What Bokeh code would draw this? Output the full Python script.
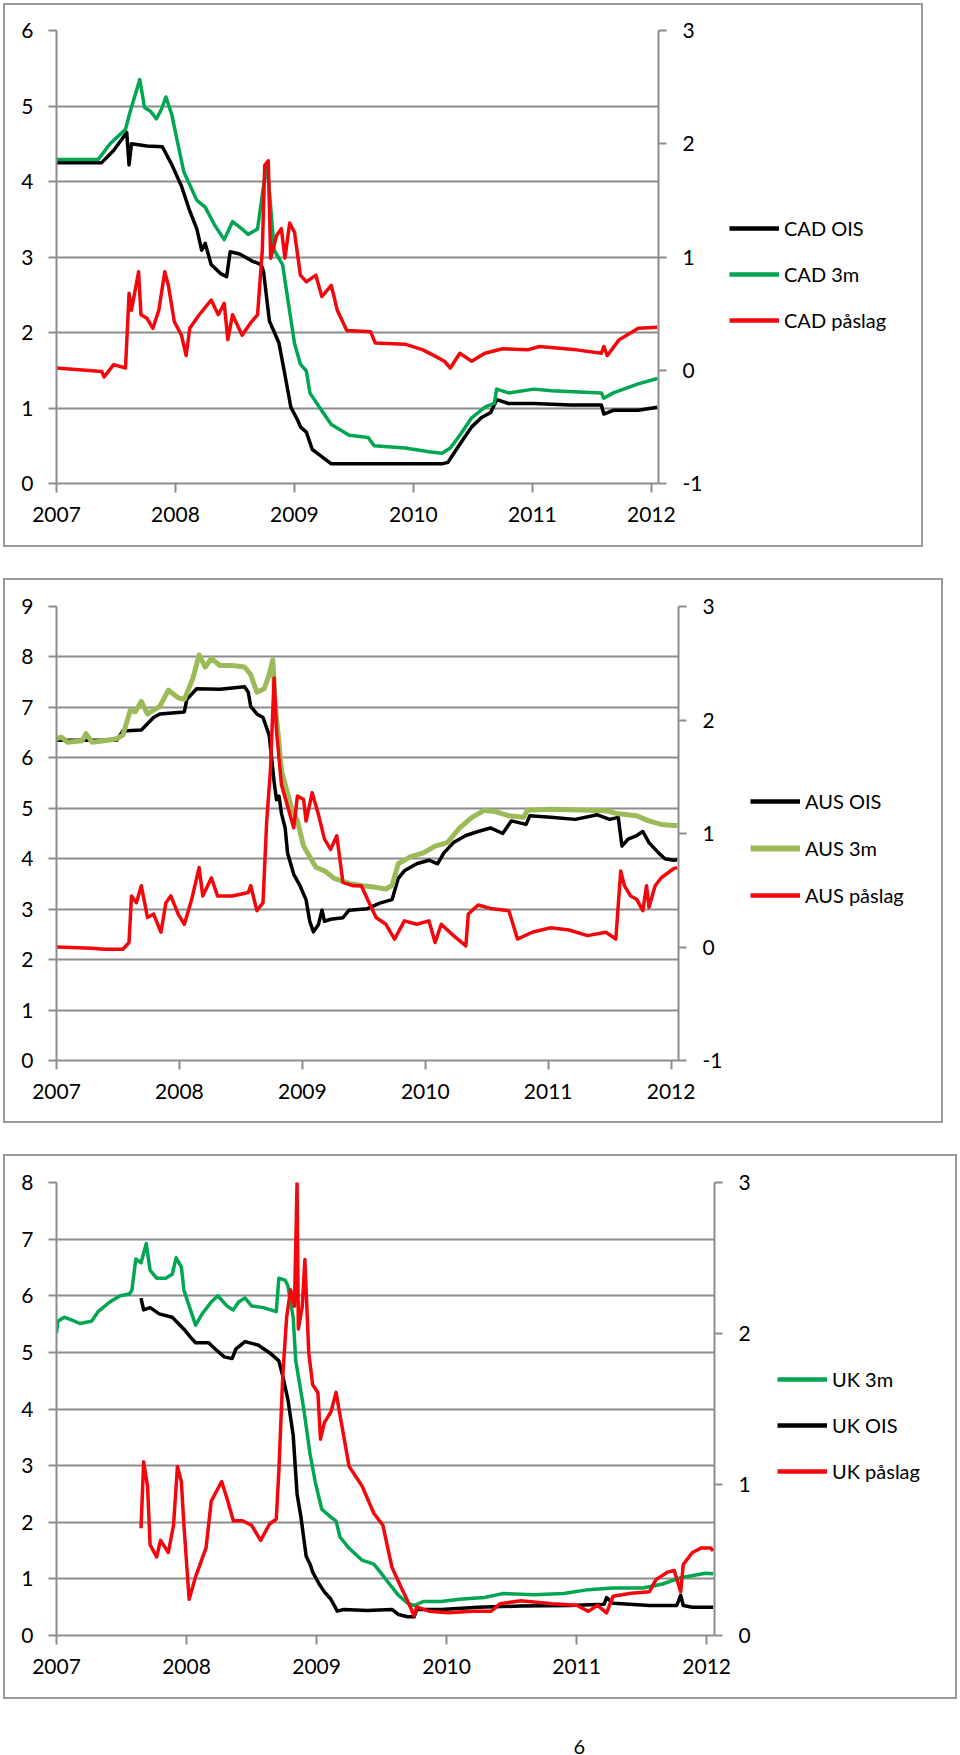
from bokeh.plotting import figure
from bokeh.models import (Range1d, LinearAxis, FixedTicker, Legend, LegendItem, Div)
from bokeh.layouts import column, row
from bokeh.embed import file_html
from bokeh.resources import INLINE

# ---------------- data (decimal years) ----------------
year_ticks = [2007, 2008, 2009, 2010, 2011, 2012]

# Panel 1: Canada
cad_ois_t = [2007.00, 2007.38, 2007.48, 2007.59, 2007.61, 2007.63, 2007.76, 2007.89, 2007.97, 2008.05,
             2008.12, 2008.18, 2008.22, 2008.25, 2008.30, 2008.38, 2008.43, 2008.46, 2008.54, 2008.64,
             2008.72, 2008.74, 2008.79, 2008.87, 2008.92, 2008.97, 2009.03, 2009.05, 2009.10, 2009.15,
             2009.21, 2009.31, 2009.62, 2009.93, 2010.24, 2010.29, 2010.34, 2010.42, 2010.49, 2010.57,
             2010.65, 2010.67, 2010.70, 2010.80, 2011.01, 2011.32, 2011.58, 2011.60, 2011.68, 2011.89,
             2012.05]
cad_ois_v = [4.25, 4.25, 4.41, 4.65, 4.22, 4.50, 4.47, 4.46, 4.22, 3.94,
             3.61, 3.37, 3.09, 3.18, 2.90, 2.78, 2.74, 3.07, 3.04, 2.95,
             2.90, 2.81, 2.15, 1.86, 1.44, 1.01, 0.83, 0.75, 0.68, 0.45,
             0.38, 0.26, 0.26, 0.26, 0.26, 0.28, 0.40, 0.59, 0.75, 0.87,
             0.94, 1.01, 1.11, 1.06, 1.06, 1.04, 1.04, 0.92, 0.97, 0.97,
             1.01]

cad_3m_t = [2007.00, 2007.35, 2007.45, 2007.58, 2007.62, 2007.70, 2007.74, 2007.79, 2007.84, 2007.88,
            2007.92, 2007.97, 2008.02, 2008.07, 2008.18, 2008.25, 2008.33, 2008.41, 2008.48, 2008.56,
            2008.61, 2008.69, 2008.74, 2008.77, 2008.83, 2008.90, 2008.95, 2009.00, 2009.05, 2009.10,
            2009.13, 2009.21, 2009.31, 2009.46, 2009.62, 2009.67, 2009.93, 2010.13, 2010.24, 2010.31,
            2010.39, 2010.49, 2010.60, 2010.68, 2010.70, 2010.80, 2011.01, 2011.16, 2011.58, 2011.60,
            2011.68, 2011.89, 2012.05]
cad_3m_v = [4.29, 4.29, 4.50, 4.69, 4.93, 5.35, 4.98, 4.93, 4.83, 4.95,
            5.12, 4.88, 4.50, 4.13, 3.75, 3.66, 3.42, 3.23, 3.47, 3.37,
            3.30, 3.37, 3.94, 4.25, 3.09, 2.90, 2.38, 1.86, 1.58, 1.49,
            1.20, 1.01, 0.78, 0.64, 0.61, 0.50, 0.47, 0.42, 0.40, 0.47,
            0.64, 0.87, 1.01, 1.06, 1.25, 1.20, 1.25, 1.23, 1.20, 1.13,
            1.20, 1.32, 1.39]

cad_spread_t = [2007.00, 2007.38, 2007.40, 2007.48, 2007.58, 2007.61, 2007.63, 2007.69, 2007.71, 2007.76,
                2007.81, 2007.86, 2007.91, 2007.94, 2007.99, 2008.05, 2008.09, 2008.12, 2008.20, 2008.30,
                2008.36, 2008.41, 2008.44, 2008.48, 2008.56, 2008.64, 2008.69, 2008.73, 2008.75, 2008.78,
                2008.80, 2008.85, 2008.89, 2008.92, 2008.96, 2009.00, 2009.05, 2009.10, 2009.18, 2009.23,
                2009.31, 2009.36, 2009.44, 2009.64, 2009.68, 2009.93, 2010.08, 2010.19, 2010.26, 2010.31,
                2010.39, 2010.49, 2010.60, 2010.75, 2010.96, 2011.06, 2011.37, 2011.58, 2011.60, 2011.63,
                2011.73, 2011.89, 2012.05]
cad_spread_v = [0.02, -0.01, -0.06, 0.05, 0.02, 0.68, 0.53, 0.87, 0.49, 0.46,
                0.37, 0.53, 0.87, 0.75, 0.43, 0.31, 0.13, 0.37, 0.49, 0.62,
                0.49, 0.59, 0.27, 0.49, 0.31, 0.43, 0.49, 1.06, 1.81, 1.85,
                0.99, 1.19, 1.25, 0.99, 1.30, 1.22, 0.84, 0.78, 0.84, 0.65,
                0.75, 0.53, 0.35, 0.34, 0.24, 0.23, 0.18, 0.12, 0.08, 0.02,
                0.15, 0.08, 0.15, 0.19, 0.18, 0.21, 0.18, 0.15, 0.21, 0.13,
                0.27, 0.37, 0.38]

# Panel 2: Australia
aus_ois_t = [2007.00, 2007.49, 2007.54, 2007.69, 2007.79, 2007.84, 2008.04, 2008.06, 2008.14, 2008.33,
             2008.53, 2008.56, 2008.58, 2008.63, 2008.68, 2008.73, 2008.77, 2008.79, 2008.81, 2008.83,
             2008.86, 2008.88, 2008.93, 2008.98, 2009.03, 2009.06, 2009.09, 2009.13, 2009.16, 2009.18,
             2009.23, 2009.33, 2009.38, 2009.53, 2009.63, 2009.73, 2009.78, 2009.83, 2009.93, 2010.03,
             2010.10, 2010.15, 2010.23, 2010.33, 2010.43, 2010.53, 2010.63, 2010.70, 2010.82, 2010.85,
             2011.02, 2011.22, 2011.40, 2011.50, 2011.57, 2011.60, 2011.65, 2011.72, 2011.77, 2011.82,
             2011.90, 2011.95, 2012.02, 2012.05]
aus_ois_v = [6.35, 6.35, 6.53, 6.55, 6.80, 6.87, 6.91, 7.16, 7.37, 7.36,
             7.41, 7.30, 7.02, 6.87, 6.80, 6.45, 5.53, 5.17, 5.24, 4.90,
             4.61, 4.11, 3.69, 3.47, 3.19, 2.76, 2.55, 2.69, 2.98, 2.76,
             2.80, 2.83, 2.98, 3.01, 3.12, 3.19, 3.61, 3.76, 3.90, 3.97,
             3.90, 4.11, 4.32, 4.46, 4.54, 4.61, 4.50, 4.75, 4.68, 4.85,
             4.82, 4.78, 4.87, 4.78, 4.82, 4.25, 4.39, 4.46, 4.54, 4.32,
             4.11, 4.00, 3.97, 3.98]

aus_3m_t = [2007.00, 2007.04, 2007.09, 2007.21, 2007.24, 2007.29, 2007.39, 2007.49, 2007.54, 2007.60,
            2007.64, 2007.69, 2007.74, 2007.84, 2007.91, 2007.99, 2008.04, 2008.11, 2008.16, 2008.21,
            2008.26, 2008.33, 2008.43, 2008.53, 2008.58, 2008.63, 2008.69, 2008.73, 2008.76, 2008.78,
            2008.81, 2008.83, 2008.87, 2008.91, 2008.96, 2009.01, 2009.06, 2009.11, 2009.18, 2009.26,
            2009.38, 2009.48, 2009.58, 2009.68, 2009.73, 2009.78, 2009.88, 2009.98, 2010.08, 2010.18,
            2010.28, 2010.38, 2010.48, 2010.58, 2010.68, 2010.80, 2010.83, 2011.02, 2011.32, 2011.47,
            2011.57, 2011.72, 2011.82, 2011.92, 2012.02, 2012.05]
aus_3m_v = [6.38, 6.41, 6.31, 6.34, 6.48, 6.31, 6.34, 6.38, 6.45, 6.94,
            6.91, 7.12, 6.87, 7.02, 7.34, 7.19, 7.16, 7.58, 8.04, 7.80,
            7.97, 7.83, 7.83, 7.80, 7.65, 7.30, 7.37, 7.65, 7.94, 7.02,
            6.31, 5.74, 5.39, 5.03, 4.75, 4.25, 4.04, 3.83, 3.76, 3.61,
            3.51, 3.47, 3.44, 3.40, 3.47, 3.90, 4.04, 4.11, 4.25, 4.32,
            4.61, 4.82, 4.96, 4.93, 4.85, 4.82, 4.96, 4.98, 4.96, 4.95,
            4.89, 4.85, 4.75, 4.68, 4.66, 4.66]

aus_spread_t = [2007.00, 2007.29, 2007.39, 2007.54, 2007.59, 2007.61, 2007.65, 2007.69, 2007.74, 2007.79,
                2007.85, 2007.89, 2007.93, 2007.99, 2008.04, 2008.10, 2008.16, 2008.19, 2008.26, 2008.31,
                2008.43, 2008.56, 2008.58, 2008.63, 2008.68, 2008.71, 2008.74, 2008.77, 2008.79, 2008.83,
                2008.88, 2008.93, 2008.96, 2009.01, 2009.03, 2009.08, 2009.13, 2009.18, 2009.23, 2009.28,
                2009.33, 2009.41, 2009.48, 2009.53, 2009.60, 2009.68, 2009.75, 2009.83, 2009.93, 2010.03,
                2010.08, 2010.13, 2010.23, 2010.33, 2010.35, 2010.43, 2010.53, 2010.68, 2010.75, 2010.87,
                2011.02, 2011.17, 2011.32, 2011.47, 2011.55, 2011.59, 2011.62, 2011.67, 2011.72, 2011.77,
                2011.80, 2011.82, 2011.87, 2011.92, 2011.97, 2012.02, 2012.05]
aus_spread_v = [0.00, -0.01, -0.02, -0.02, 0.04, 0.45, 0.39, 0.54, 0.26, 0.29,
                0.13, 0.39, 0.45, 0.29, 0.20, 0.42, 0.70, 0.45, 0.61, 0.45,
                0.45, 0.48, 0.54, 0.32, 0.39, 1.11, 1.55, 2.37, 1.90, 1.43,
                1.24, 1.05, 1.33, 1.30, 1.11, 1.36, 1.17, 0.95, 0.86, 0.98,
                0.57, 0.54, 0.54, 0.42, 0.26, 0.20, 0.07, 0.23, 0.20, 0.23,
                0.04, 0.20, 0.10, 0.01, 0.29, 0.37, 0.34, 0.32, 0.07, 0.13,
                0.17, 0.15, 0.10, 0.13, 0.07, 0.67, 0.54, 0.45, 0.42, 0.32,
                0.54, 0.35, 0.54, 0.61, 0.65, 0.69, 0.70]

# Panel 3: United Kingdom
uk_3m_t = [2007.00, 2007.01, 2007.06, 2007.11, 2007.18, 2007.27, 2007.32, 2007.41, 2007.49, 2007.56,
           2007.58, 2007.61, 2007.65, 2007.69, 2007.72, 2007.77, 2007.84, 2007.89, 2007.92, 2007.96,
           2007.98, 2008.03, 2008.07, 2008.12, 2008.19, 2008.24, 2008.31, 2008.36, 2008.40, 2008.45,
           2008.50, 2008.59, 2008.69, 2008.71, 2008.76, 2008.78, 2008.82, 2008.84, 2008.87, 2008.90,
           2008.95, 2008.99, 2009.04, 2009.11, 2009.15, 2009.18, 2009.25, 2009.35, 2009.44, 2009.49,
           2009.56, 2009.63, 2009.70, 2009.75, 2009.82, 2009.96, 2010.10, 2010.29, 2010.43, 2010.67,
           2010.90, 2011.09, 2011.28, 2011.51, 2011.66, 2011.80, 2011.99, 2012.05]
uk_3m_v = [5.34, 5.55, 5.62, 5.58, 5.51, 5.55, 5.72, 5.89, 6.00, 6.03,
           6.10, 6.65, 6.58, 6.92, 6.45, 6.31, 6.31, 6.38, 6.67, 6.51,
           6.10, 5.75, 5.48, 5.68, 5.89, 6.00, 5.82, 5.75, 5.89, 5.96,
           5.82, 5.79, 5.72, 6.31, 6.27, 6.17, 5.62, 4.85, 4.44, 4.02,
           3.20, 2.71, 2.23, 2.09, 2.02, 1.74, 1.54, 1.33, 1.26, 1.12,
           0.91, 0.71, 0.57, 0.53, 0.60, 0.60, 0.64, 0.67, 0.74, 0.72,
           0.74, 0.81, 0.84, 0.84, 0.91, 1.02, 1.10, 1.09]

uk_ois_t = [2007.65, 2007.67, 2007.72, 2007.79, 2007.89, 2007.98, 2008.03, 2008.07, 2008.17, 2008.22,
            2008.29, 2008.35, 2008.38, 2008.45, 2008.55, 2008.64, 2008.71, 2008.74, 2008.78, 2008.82,
            2008.85, 2008.88, 2008.90, 2008.92, 2008.95, 2008.97, 2009.02, 2009.06, 2009.11, 2009.16,
            2009.21, 2009.39, 2009.58, 2009.63, 2009.70, 2009.75, 2009.77, 2009.96, 2010.24, 2010.57,
            2010.95, 2011.21, 2011.23, 2011.28, 2011.56, 2011.77, 2011.80, 2011.82, 2011.89, 2012.05]
uk_ois_v = [5.96, 5.75, 5.79, 5.68, 5.62, 5.41, 5.27, 5.17, 5.17, 5.06,
            4.92, 4.89, 5.06, 5.19, 5.13, 4.99, 4.85, 4.58, 4.16, 3.54,
            2.50, 2.09, 1.74, 1.40, 1.26, 1.12, 0.91, 0.77, 0.64, 0.43,
            0.46, 0.44, 0.46, 0.37, 0.33, 0.33, 0.46, 0.46, 0.50, 0.52,
            0.53, 0.55, 0.67, 0.57, 0.53, 0.53, 0.71, 0.53, 0.50, 0.50]

uk_spread_t = [2007.65, 2007.67, 2007.70, 2007.72, 2007.77, 2007.80, 2007.86, 2007.90, 2007.93, 2007.96,
               2007.98, 2008.02, 2008.07, 2008.15, 2008.19, 2008.27, 2008.31, 2008.36, 2008.43, 2008.50,
               2008.57, 2008.64, 2008.69, 2008.71, 2008.74, 2008.77, 2008.80, 2008.83, 2008.85, 2008.86,
               2008.89, 2008.91, 2008.94, 2008.97, 2009.01, 2009.03, 2009.06, 2009.11, 2009.15, 2009.18,
               2009.25, 2009.35, 2009.44, 2009.51, 2009.58, 2009.65, 2009.71, 2009.75, 2009.77, 2009.87,
               2010.01, 2010.20, 2010.34, 2010.41, 2010.57, 2010.81, 2011.00, 2011.09, 2011.16, 2011.23,
               2011.28, 2011.42, 2011.56, 2011.61, 2011.70, 2011.75, 2011.80, 2011.82, 2011.89, 2011.96,
               2012.03, 2012.05]
uk_spread_v = [0.71, 1.15, 0.99, 0.60, 0.52, 0.63, 0.55, 0.73, 1.12, 1.02,
               0.73, 0.24, 0.39, 0.58, 0.89, 1.02, 0.91, 0.76, 0.76, 0.73,
               0.63, 0.74, 0.77, 1.09, 1.72, 2.11, 2.29, 2.18, 3.00, 2.03,
               2.18, 2.49, 1.87, 1.66, 1.61, 1.30, 1.41, 1.48, 1.61, 1.46,
               1.12, 0.99, 0.81, 0.73, 0.45, 0.32, 0.21, 0.13, 0.19, 0.16,
               0.15, 0.16, 0.16, 0.21, 0.23, 0.21, 0.20, 0.16, 0.20, 0.15,
               0.26, 0.28, 0.29, 0.37, 0.42, 0.43, 0.29, 0.47, 0.55, 0.58,
               0.58, 0.56]

# ---------------- styling ----------------
FONT = "Lato"
GRID = "#8c8c8c"
BLACK = "#000000"
GREEN = "#00A651"
RED = "#F2070D"
OLIVE = "#9BBB59"
BOX = {"box-shadow": "0 0 0 2px #9a9a9a", "background-color": "white"}


def style_axis(ax, standoff):
    ax.major_tick_out = 8
    ax.major_tick_in = 0
    ax.minor_tick_out = 0
    ax.minor_tick_in = 0
    ax.axis_line_color = GRID
    ax.axis_line_width = 2
    ax.major_tick_line_color = GRID
    ax.major_tick_line_width = 2
    ax.major_label_text_font = FONT
    ax.major_label_text_font_size = "21px"
    ax.major_label_text_color = "black"
    ax.major_label_standoff = standoff


def make_panel(plot_w, leg_w, height, mb, left_max, right_rng, right_ticks, left_ticks,
               series, leg_loc, leg_spacing):
    p = figure(width=plot_w, height=height,
               x_range=Range1d(2007, 2012.06), y_range=Range1d(0, left_max),
               output_backend="svg", toolbar_location=None,
               min_border_left=mb[0], min_border_right=mb[1],
               min_border_top=mb[2], min_border_bottom=mb[3],
               background_fill_color="white", border_fill_color="white")
    p.outline_line_color = None
    p.extra_y_ranges = {"r": Range1d(*right_rng)}

    p.xgrid.visible = False
    p.ygrid.grid_line_color = GRID
    p.ygrid.grid_line_width = 2
    p.ygrid.ticker = FixedTicker(ticks=left_ticks)

    xa = p.xaxis[0]
    xa.ticker = FixedTicker(ticks=year_ticks)
    style_axis(xa, 14)
    xa.major_tick_out = 9

    ya = p.yaxis[0]
    ya.ticker = FixedTicker(ticks=left_ticks)
    style_axis(ya, 15)

    ra = LinearAxis(y_range_name="r", ticker=FixedTicker(ticks=right_ticks))
    style_axis(ra, 16)
    ra.major_label_overrides = {t: str(t) for t in right_ticks}
    p.add_layout(ra, "right")

    # legend-only figure to the right of the plot (the series drawn there lie outside its view)
    lf = figure(width=leg_w, height=height, x_range=Range1d(0, 1), y_range=Range1d(0, 1),
                output_backend="svg", toolbar_location=None,
                x_axis_location=None, y_axis_location=None,
                min_border_left=0, min_border_right=0, min_border_top=0, min_border_bottom=0,
                background_fill_color="white", border_fill_color="white")
    lf.outline_line_color = None
    lf.grid.visible = False

    items = []
    for (label, t, v, color, lw, rng) in series:
        kw = {} if rng is None else {"y_range_name": rng}
        p.line(t, v, line_color=color, line_width=lw, line_join="round", **kw)
        proxy = lf.line(t, v, line_color=color, line_width=lw + 1)
        items.append(LegendItem(label=label, renderers=[proxy]))

    leg = Legend(items=items, location=leg_loc, orientation="vertical",
                 glyph_width=50, glyph_height=20, label_height=20,
                 label_standoff=5, spacing=leg_spacing, padding=0, margin=0,
                 border_line_color=None, background_fill_alpha=0,
                 label_text_font=FONT, label_text_font_size="20px",
                 label_text_color="black")
    lf.add_layout(leg, "center")
    return row(p, lf, spacing=0, styles=BOX)


LW = 3.5

# Panel 1
panel1 = make_panel(703, 213, 540, (51, 50, 25, 62), 6, (-1, 3), [-1, 0, 1, 2, 3],
                    [0, 1, 2, 3, 4, 5, 6],
                    [("CAD OIS", cad_ois_t, cad_ois_v, BLACK, LW, None),
                     ("CAD 3m", cad_3m_t, cad_3m_v, GREEN, LW, None),
                     ("CAD påslag", cad_spread_t, cad_spread_v, RED, LW, "r")],
                    (21, 151), 22)

# Panel 2
panel2 = make_panel(723, 213, 541, (51, 50, 26, 61), 9, (-1, 3), [-1, 0, 1, 2, 3],
                    list(range(0, 10)),
                    [("AUS OIS", aus_ois_t, aus_ois_v, BLACK, LW, None),
                     ("AUS 3m", aus_3m_t, aus_3m_v, OLIVE, 5, None),
                     ("AUS påslag", aus_spread_t, aus_spread_v, RED, LW, "r")],
                    (22, 153), 23)

# Panel 3
panel3 = make_panel(759, 191, 541, (51, 50, 26, 62), 8, (0, 3), [0, 1, 2, 3],
                    list(range(0, 9)),
                    [("UK 3m", uk_3m_t, uk_3m_v, GREEN, LW, None),
                     ("UK OIS", uk_ois_t, uk_ois_v, BLACK, LW, None),
                     ("UK påslag", uk_spread_t, uk_spread_v, RED, LW, "r")],
                    (13, 152), 22)

page_no = Div(text="6", width=575, height=10,
              styles={"text-align": "right", "font-family": FONT, "font-size": "20px",
                      "line-height": "10px", "color": "black"})

inner = column(panel1, panel2, panel3, spacing=35)
layout = column(inner, page_no, spacing=39, margin=(5, 0, 0, 5))

open("out.html", "w").write(file_html(layout, INLINE))
